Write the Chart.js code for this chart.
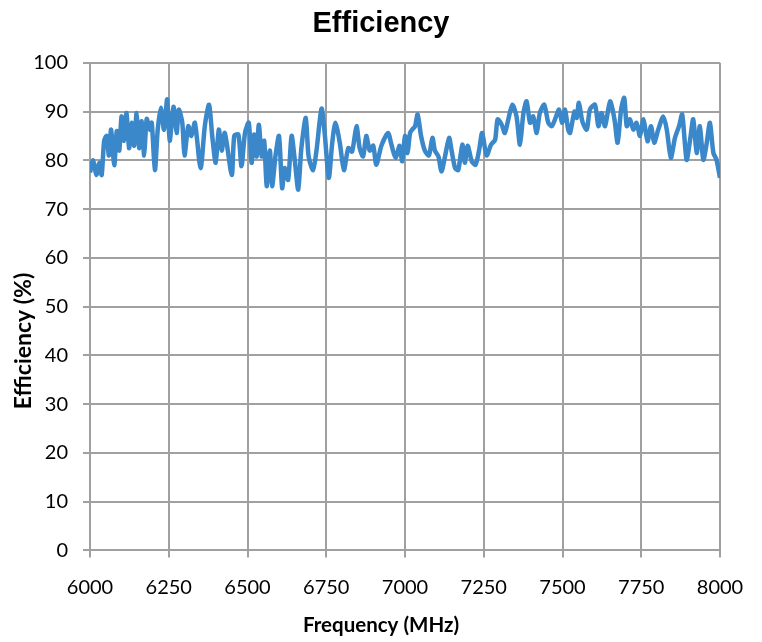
<!DOCTYPE html>
<html>
<head>
<meta charset="utf-8">
<script src="https://cdn.jsdelivr.net/npm/chart.js@4"></script>
<style>
  body { margin: 0; background: #fff; }
  #wrap { width: 762px; height: 642px; }
</style>
</head>
<body>
<div id="wrap"><canvas id="effChart" width="762" height="642"></canvas></div>
<script>
// frequency (MHz) and efficiency (%)
const freqs = [
  6000, 6010, 6020, 6030, 6037, 6045, 6053, 6060, 6067, 6077, 6085, 6093, 6100, 6108, 6116, 6124,
  6132, 6140, 6148, 6156, 6164, 6172, 6180, 6190, 6196, 6206, 6215, 6225, 6235, 6245, 6253, 6265,
  6275, 6282, 6293, 6300, 6312, 6322, 6333, 6351, 6365, 6378, 6388, 6399, 6409, 6418, 6428, 6450,
  6458, 6471, 6481, 6492, 6504, 6513, 6521, 6529, 6536, 6545, 6553, 6561, 6571, 6578, 6589, 6600,
  6610, 6618, 6629, 6640, 6650, 6661, 6671, 6685, 6694, 6708, 6719, 6735, 6745, 6758, 6769, 6779,
  6793, 6806, 6820, 6832, 6846, 6856, 6867, 6877, 6888, 6899, 6909, 6925, 6946, 6957, 6970, 6983,
  6991, 7000, 7008, 7016, 7023, 7032, 7040, 7051, 7063, 7076, 7087, 7095, 7106, 7116, 7127, 7140,
  7148, 7159, 7169, 7182, 7190, 7199, 7212, 7224, 7235, 7245, 7259, 7273, 7286, 7294, 7307, 7317,
  7328, 7341, 7354, 7365, 7376, 7386, 7397, 7407, 7418, 7428, 7442, 7455, 7466, 7478, 7489, 7499,
  7508, 7518, 7524, 7538, 7545, 7552, 7563, 7577, 7587, 7603, 7614, 7624, 7635, 7651, 7665, 7675,
  7686, 7696, 7704, 7714, 7725, 7735, 7746, 7757, 7770, 7781, 7791, 7804, 7820, 7831, 7844, 7857,
  7870, 7880, 7894, 7905, 7915, 7926, 7936, 7947, 7958, 7968, 7979, 7989, 8000
];
const efficiency = [
  77.5, 80, 77, 79.5, 77, 84, 85, 81, 86.3, 79, 86, 82, 89, 84, 89.7, 82.5,
  87.7, 83, 89.7, 82.5, 88, 81, 88.5, 86.3, 87.7, 78, 86.3, 90.8, 86.3, 92.5, 84, 91,
  85.6, 90.4, 87.7, 81, 87, 85, 87.7, 78.4, 87.3, 91.4, 85, 79.5, 86.3, 82, 85.6, 77,
  85, 85.3, 78.8, 85.6, 87.7, 79.5, 85.3, 80.8, 87.3, 80.8, 84, 74.7, 82, 74.7, 81, 85,
  74.3, 78.4, 76, 85, 80.1, 74, 82.5, 88.7, 80.8, 78, 82, 90.6, 85.6, 76.4, 83.6, 87.7,
  83.6, 78, 82.5, 81.8, 87, 82.5, 80.8, 85, 82, 83, 79.1, 83, 85.6, 83.2, 80.5, 83,
  79.8, 85, 81.5, 85.6, 86.3, 87, 89.4, 85, 82, 81, 84.6, 82, 80.8, 77.7, 80.8, 84.6,
  82, 78.4, 78, 83.2, 79.5, 83, 79.8, 79.1, 82, 85.6, 81, 83.2, 84.2, 88.4, 87.3, 85.6,
  88.4, 91.4, 89, 83.2, 89.7, 92.1, 87.7, 89, 85.6, 89.7, 91.4, 87.7, 87, 88.7, 90.4, 87.7,
  90.4, 86.3, 85.6, 90, 88.7, 91.8, 88, 86.3, 90.4, 91.4, 87, 89.7, 87, 92.1, 88.4, 83.6,
  90.4, 92.8, 87, 88.4, 86.3, 87.7, 85, 88.4, 83.9, 87, 83.6, 86.3, 89, 86.3, 80.5, 84.6,
  87, 89.4, 80.1, 84.2, 88.4, 81.5, 87, 80.1, 83.6, 87.7, 81.5, 80.1, 76.4
];
const xTicks = [6000, 6250, 6500, 6750, 7000, 7250, 7500, 7750, 8000];
const yTicks = [0, 10, 20, 30, 40, 50, 60, 70, 80, 90, 100];

const points = freqs.map((f, i) => ({ x: f, y: efficiency[i] }));
const gridColor = '#a0a0a0';
const tickFont = { family: "Lato, 'Open Sans', sans-serif", size: 20 };
const axisTitleFont = { family: "Lato, 'Open Sans', sans-serif", weight: 'bold' };

// y axis title sits lower than the plot centre in the original, so draw it by hand
const yTitlePlugin = {
  id: 'yTitle',
  afterDraw(chart) {
    const ctx = chart.ctx;
    ctx.save();
    ctx.translate(24, 341);
    ctx.rotate(-Math.PI / 2);
    ctx.font = 'bold 23px Lato, "Open Sans", sans-serif';
    ctx.fillStyle = '#000';
    ctx.textAlign = 'center';
    ctx.textBaseline = 'middle';
    ctx.fillText('Efficiency (%)', 0, 0);
    ctx.restore();
  }
};

const chart = new Chart(document.getElementById('effChart'), {
  type: 'line',
  data: {
    datasets: [{
      label: 'Efficiency',
      data: points,
      borderColor: '#3a87c9',
      borderWidth: 4.5,
      pointRadius: 0,
      tension: 0.25,
      fill: false
    }]
  },
  options: {
    responsive: false,
    animation: false,
    layout: { padding: 0 },
    plugins: {
      legend: { display: false },
      tooltip: { enabled: false },
      title: {
        display: true,
        text: 'Efficiency',
        color: '#000',
        font: { family: "'Liberation Sans', Arial, sans-serif", size: 29, weight: 'bold' },
        padding: { top: 7, bottom: 21 }
      },
      subtitle: {
        display: true,
        position: 'bottom',
        text: 'Frequency (MHz)',
        color: '#000',
        font: { ...axisTitleFont, size: 20.5 },
        padding: { top: 0, bottom: 4 }
      }
    },
    scales: {
      x: {
        type: 'linear',
        min: 6000,
        max: 8000,
        afterBuildTicks: (scale) => { scale.ticks = xTicks.map(v => ({ value: v })); },
        afterFit: (scale) => { scale.height = 63; },
        border: { color: gridColor, width: 2 },
        grid: { color: gridColor, lineWidth: 2, tickLength: 7 },
        ticks: { color: '#000', font: tickFont, padding: 18, maxRotation: 0, callback: (v) => String(v) }
      },
      y: {
        min: 0,
        max: 100,
        afterBuildTicks: (scale) => { scale.ticks = yTicks.map(v => ({ value: v })); },
        afterFit: (scale) => { scale.width = 90; },
        border: { color: gridColor, width: 2 },
        grid: { color: gridColor, lineWidth: 2, tickLength: 7 },
        ticks: { color: '#000', font: tickFont, padding: 15, callback: (v) => String(v) }
      },
      // empty right-hand strip so the plot ends at x=720
      yRight: {
        position: 'right',
        min: 0,
        max: 100,
        afterFit: (scale) => { scale.width = 42; },
        border: { display: false },
        grid: { display: false, drawTicks: false },
        ticks: { display: false }
      }
    }
  },
  plugins: [yTitlePlugin]
});
</script>
</body>
</html>
